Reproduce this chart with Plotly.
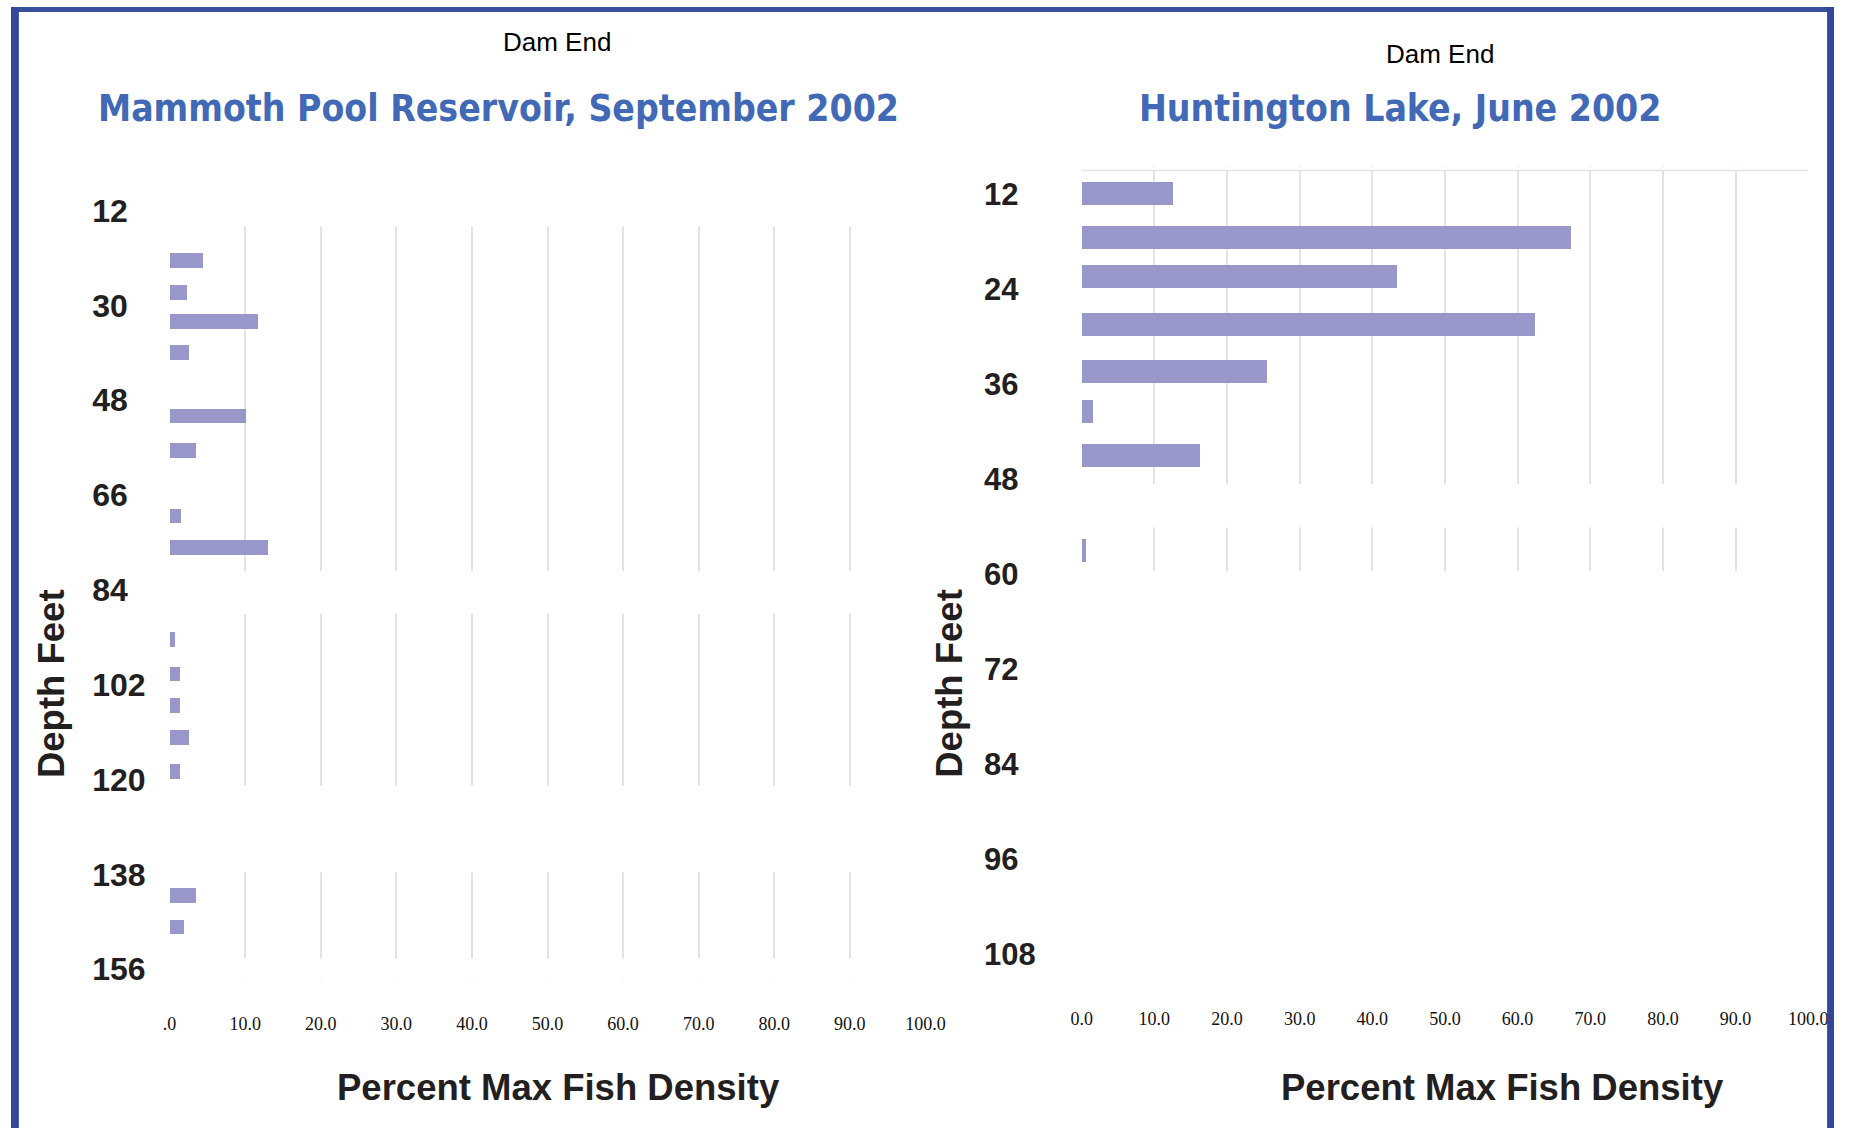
import plotly.graph_objects as go

# ---------------- data ----------------
left_title = "Mammoth Pool Reservoir, September 2002"
right_title = "Huntington Lake, June 2002"
subtitle = "Dam End"

left_depth = [21.5, 27.5, 33, 39, 51, 57.5, 70, 76, 93.5, 100, 106, 112, 118.5, 142, 148]
left_pct = [4.4, 2.3, 11.7, 2.5, 10.0, 3.5, 1.5, 13.0, 0.6, 1.3, 1.3, 2.5, 1.3, 3.5, 1.8]

right_depth = [12, 17.5, 22.5, 28.5, 34.5, 39.5, 45, 57]
right_pct = [12.5, 67.3, 43.4, 62.4, 25.5, 1.5, 16.2, 0.5]

left_yticks = [12, 30, 48, 66, 84, 102, 120, 138, 156]
right_yticks = [12, 24, 36, 48, 60, 72, 84, 96, 108]
x_ticks = [0, 10, 20, 30, 40, 50, 60, 70, 80, 90, 100]
left_xticktext = [".0", "10.0", "20.0", "30.0", "40.0", "50.0", "60.0", "70.0", "80.0", "90.0", "100.0"]
right_xticktext = ["0.0", "10.0", "20.0", "30.0", "40.0", "50.0", "60.0", "70.0", "80.0", "90.0", "100.0"]

# ---------------- styling / layout constants ----------------
W, H = 1854, 1138
BAR = "#9797c9"
GRID = "#e3e3e3"
TXT = "#231f20"
BLUE_T = "#4169b5"
BORDER = "#3a4ea0"


def px(x):
    return x / W


def py(y):
    return 1 - y / H


def lab(v):
    # figure space keeps 2-digit labels left aligned with 3-digit ones
    return f"{v}\u2007" if v < 100 else str(v)


fig = go.Figure()
fig.add_trace(go.Bar(x=left_pct, y=left_depth, orientation="h", width=2.8,
                     marker=dict(color=BAR, line=dict(width=0)),
                     xaxis="x", yaxis="y", showlegend=False))
fig.add_trace(go.Bar(x=right_pct, y=right_depth, orientation="h", width=2.9,
                     marker=dict(color=BAR, line=dict(width=0)),
                     xaxis="x2", yaxis="y2", showlegend=False))

xcommon = dict(range=[0, 100], tickvals=x_ticks, showgrid=True, gridcolor=GRID,
               gridwidth=1.5, zeroline=False, showline=False, ticks="",
               tickfont=dict(family="Liberation Serif, Times New Roman, serif", size=18, color="#111"),
               fixedrange=True)
ycommon = dict(showgrid=False, zeroline=False, showline=False, ticks="",
               tickfont=dict(family="Liberation Sans, Arial, sans-serif", size=32, color=TXT),
               fixedrange=True)

fig.update_layout(
    width=W, height=H,
    margin=dict(l=0, r=0, t=0, b=0, pad=0),
    paper_bgcolor="white", plot_bgcolor="white",
    bargap=0,
    font=dict(family="Liberation Sans, Arial, sans-serif", color=TXT),
    xaxis=dict(domain=[px(161.3), px(930.0)], anchor="y", ticktext=left_xticktext,
               ticklabelstandoff=31, **xcommon),
    yaxis=dict(domain=[py(987.4), py(196.0)], anchor="x", range=[158, 10],
               tickvals=left_yticks, ticktext=[f"<b>{lab(v)}</b>" for v in left_yticks],
               ticklabelstandoff=23, **ycommon),
    xaxis2=dict(domain=[px(1088.9), px(1827.8)], anchor="y2", ticktext=right_xticktext,
                ticklabelstandoff=44, **xcommon),
    yaxis2=dict(domain=[py(969.9), py(161.9)], anchor="x2", range=[109, 8.5],
                tickvals=right_yticks, ticktext=[f"<b>{lab(v)}</b>" for v in right_yticks],
                ticklabelstandoff=45, **ycommon),
)
fig.update_yaxes(tickfont_size=31, selector=dict(anchor="x2"))

shapes = []
# masks that break the gridlines into the pasted segments
for y0, y1 in [(10, 15.0), (80.45, 88.55), (121.2, 137.6), (154.0, 158)]:
    shapes.append(dict(type="rect", xref="x domain", yref="y", x0=-0.01, x1=1.01,
                       y0=y0, y1=y1, fillcolor="white", line=dict(width=0), layer="above"))
for y0, y1 in [(8.5, 9.0), (48.6, 54.1), (59.6, 109)]:
    shapes.append(dict(type="rect", xref="x2 domain", yref="y2", x0=-0.01, x1=1.01,
                       y0=y0, y1=y1, fillcolor="white", line=dict(width=0), layer="above"))
# top border line of the right chart
shapes.append(dict(type="line", xref="x2 domain", yref="y2", x0=0, x1=1, y0=9.0, y1=9.0,
                   line=dict(color=GRID, width=1.5), layer="above"))
# slide frame
shapes.append(dict(type="rect", xref="paper", yref="paper", x0=0, x1=1, y0=py(5), y1=1,
                   fillcolor=BORDER, line=dict(width=0), layer="above"))
shapes.append(dict(type="rect", xref="paper", yref="paper", x0=0, x1=px(8), y0=0, y1=1,
                   fillcolor="#33469a", line=dict(width=0), layer="above"))
shapes.append(dict(type="rect", xref="paper", yref="paper", x0=px(1847), x1=1, y0=0, y1=1,
                   fillcolor="#33469a", line=dict(width=0), layer="above"))
fig.update_layout(shapes=shapes)

title_font = dict(family="DejaVu Sans Condensed, DejaVu Sans, sans-serif", size=37, color=BLUE_T)
sub_font = dict(family="Liberation Sans Narrow, Arial Narrow, Liberation Sans, sans-serif", size=26, color="black")
axis_font = dict(family="Liberation Sans, Arial, sans-serif", size=36.5, color=TXT)

ann = [
    dict(text=subtitle, x=px(555), y=py(36), font=sub_font),
    dict(text=subtitle, x=px(1453), y=py(48), font=sub_font),
    dict(text=f"<b>{left_title}</b>", x=px(495.5), y=py(103), font=title_font),
    dict(text=f"<b>{right_title}</b>", x=px(1412.5), y=py(103), font=title_font),
    dict(text="<b>Percent Max Fish Density</b>", x=px(557), y=py(1097), font=axis_font),
    dict(text="<b>Percent Max Fish Density</b>", x=px(1517), y=py(1097), font=axis_font),
    dict(text="<b>Depth Feet</b>", x=px(41), y=py(687), font=axis_font, textangle=-90),
    dict(text="<b>Depth Feet</b>", x=px(955), y=py(687), font=axis_font, textangle=-90),
]
for a in ann:
    a.update(xref="paper", yref="paper", showarrow=False, xanchor="center", yanchor="middle")
fig.update_layout(annotations=ann)

fig.write_html(
    "out.html",
    config={"displayModeBar": False},
    post_script=("document.documentElement.style.margin='0';"
                 "document.body.style.margin='0';"
                 "document.body.style.padding='0';"
                 "document.body.style.overflow='hidden';"
                 "document.documentElement.style.overflow='hidden';"),
)
